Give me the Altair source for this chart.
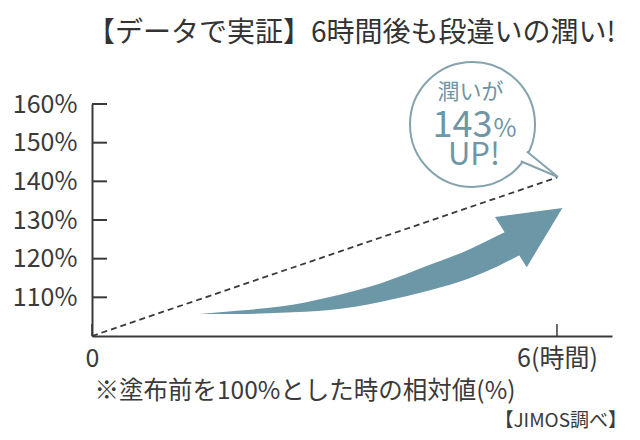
import altair as alt
import pandas as pd

# ---------------- data ----------------
title_text = "【データで実証】6時間後も段違いの潤い!"
y_ticks = [110, 120, 130, 140, 150, 160]
x_ticks = [0, 6]
x_tick_labels = ["0", "6(時間)"]
note_text = "※塗布前を100%とした時の相対値(%)"
source_text = "【JIMOS調べ】"

# dashed reference line (hours, %)
line_hours = [0, 6]
line_values = [100, 141]

# curved arrow body (hours, upper %, lower %)
arrow_hours = [1.39, 1.91, 2.43, 3.07, 3.72, 4.36, 4.88, 5.23, 5.43, 5.59]
arrow_upper = [105.7, 106.6, 107.6, 110.1, 113.6, 118.4, 122.5, 125.9, 127.9, 129.5]
arrow_lower = [105.7, 105.7, 106.0, 106.7, 108.8, 111.8, 115.0, 118.0, 120.0, 121.6]

# arrow head
head_hours = [5.20, 5.61, 6.07]
head_upper = [130.8, 131.9, 133.1]
head_lower = [130.8, 117.8, 133.1]

# speech bubble
bubble_hours = [4.91]
bubble_values = [154.7]
bubble_line1 = "潤いが"
bubble_number = "143"
bubble_unit = "%"
bubble_line3 = "UP!"

# ---------------- styling ----------------
W, H = 520, 232
X_MAX = 6.71
FONT = "Noto Sans CJK JP"
DARK = "#3a3a3a"
TEAL = "#6b97a7"
TEAL_TEXT = "#6f96a5"
BUBBLE_STROKE = "#85a3ad"

xs = alt.Scale(domain=[0, X_MAX], nice=False, zero=False)
ys = alt.Scale(domain=[100, 160], nice=False, zero=False)

label_expr = " : ".join(
    [f"datum.value == {v} ? '{t}'" for v, t in zip(x_ticks[:-1], x_tick_labels[:-1])]
    + [f"'{x_tick_labels[-1]}'"]
)

line_df = pd.DataFrame({"x": line_hours, "y": line_values})
arrow_df = pd.DataFrame({"x": arrow_hours, "y": arrow_upper, "y2": arrow_lower})
head_df = pd.DataFrame({"x": head_hours, "y": head_upper, "y2": head_lower})
ytick_df = pd.DataFrame({"y": y_ticks})
xtick_df = pd.DataFrame({"x": x_ticks})
bubble_df = pd.DataFrame({"x": bubble_hours, "y": bubble_values,
                          "t1": [bubble_line1], "t2": [bubble_number],
                          "t3": [bubble_unit], "t4": [bubble_line3]})
src_df = pd.DataFrame({"t": [source_text]})

x_axis = alt.Axis(
    values=x_ticks, labelExpr=label_expr, ticks=False, tickSize=0, grid=False,
    domain=True, domainColor=DARK, domainWidth=2,
    labelFont=FONT, labelFontSize=25, labelColor=DARK, labelPadding=22,
    labelBaseline="middle", labelFlush=False, labelOverlap=False,
    title=note_text, titleFont=FONT, titleFontSize=24.5, titleFontWeight="normal",
    titleColor=DARK, titleAnchor="start", titleAlign="left", titleX=2, titleY=55,
    titleBaseline="middle",
)
y_axis = alt.Axis(
    values=y_ticks, labelExpr="datum.value + '%'", ticks=False, tickSize=0,
    grid=False, domain=True, domainColor=DARK, domainWidth=2,
    labelFont=FONT, labelFontSize=25, labelColor=DARK, labelPadding=15,
    labelFlush=False, title=None,
)

dashed = alt.Chart(line_df).mark_line(color=DARK, strokeDash=[6, 4], strokeWidth=1.8)

ytick_rules = alt.Chart(ytick_df).mark_rule(color=DARK, strokeWidth=2).encode(
    x=alt.value(0), x2=alt.value(15)
)
xtick_rules = alt.Chart(xtick_df).mark_rule(color=DARK, strokeWidth=1.5).encode(
    y=alt.value(H - 12), y2=alt.value(H)
)

body = alt.Chart(arrow_df).mark_area(color=TEAL, opacity=1, interpolate="monotone").encode(
    y2="y2:Q"
)
head = alt.Chart(head_df).mark_area(color=TEAL, opacity=1).encode(y2="y2:Q")

circle = alt.Chart(bubble_df).mark_point(
    shape="circle", size=125 ** 2, fill="white", stroke=BUBBLE_STROKE,
    strokeWidth=2, opacity=1, fillOpacity=1, filled=False,
)
tail = alt.Chart(bubble_df).mark_point(
    shape="M 0.604 0.300 L 0.95 0.583 L 0.536 0.408", size=180 ** 2,
    fill="white", stroke=BUBBLE_STROKE, strokeWidth=2, opacity=1, fillOpacity=1,
    filled=False,
)

t1 = alt.Chart(bubble_df).mark_text(
    font=FONT, fontSize=22, color=TEAL_TEXT, align="center", baseline="middle",
    dx=-2, dy=-32.5,
).encode(text="t1:N")
t2 = alt.Chart(bubble_df).mark_text(
    font=FONT, fontSize=36, color=TEAL_TEXT, align="right", baseline="alphabetic",
    dx=20, dy=13,
).encode(text="t2:N")
t3 = alt.Chart(bubble_df).mark_text(
    font=FONT, fontSize=25, color=TEAL_TEXT, align="left", baseline="alphabetic",
    dx=21, dy=13,
).encode(text="t3:N")
t4 = alt.Chart(bubble_df).mark_text(
    font=FONT, fontSize=31, color=TEAL_TEXT, align="center", baseline="middle",
    dx=1.5, dy=32,
).encode(text="t4:N")

src = alt.Chart(src_df).mark_text(
    font=FONT, fontSize=19, color=DARK, align="right", baseline="middle"
).encode(x=alt.value(535), y=alt.value(317), text="t:N")

chart = alt.layer(
    dashed, ytick_rules, xtick_rules, body, head, circle, tail, t1, t2, t3, t4, src
).encode(
    x=alt.X("x:Q", scale=xs, axis=x_axis),
    y=alt.Y("y:Q", scale=ys, axis=y_axis),
).properties(
    width=W, height=H, background="white",
    title=alt.TitleParams(
        text=title_text, anchor="start", frame="group", offset=10, dx=-5,
        font=FONT, fontSize=28, fontWeight="normal", color="#333333",
    ),
    autosize=alt.AutoSizeParams(type="none"),
    padding={"left": 84, "top": 96, "right": 20, "bottom": 96},
).configure_view(stroke=None)

chart.save("out.html", embed_options={"renderer": "svg", "actions": False})
